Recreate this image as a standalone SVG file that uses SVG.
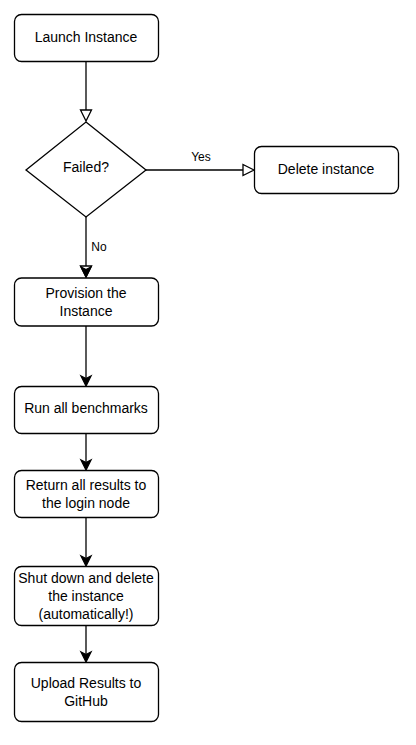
<svg xmlns="http://www.w3.org/2000/svg" width="416" height="745" viewBox="0 0 416 745">
<style>
.n{fill:#fff;stroke:#000;stroke-width:1.3}
.t{font-family:"Liberation Sans",Arial,sans-serif;font-size:14px;fill:#000;text-anchor:middle}
.l{font-family:"Liberation Sans",Arial,sans-serif;font-size:12px;fill:#000;text-anchor:middle}
.e{fill:none;stroke:#000;stroke-width:1.3}
.open{fill:#fff;stroke:#000;stroke-width:1.3}
.cls{fill:#000;stroke:#000;stroke-width:1.3}
</style>
<rect width="416" height="745" fill="#fff"/>
<g id="edges">
<path class="e" d="M86 62V110"/>
<path class="open" d="M86 121L80.5 110H91.5Z"/>
<path class="e" d="M146 170H243"/>
<path class="open" d="M254 170L243 164.5V175.5Z"/>
<text class="l" x="201" y="161">Yes</text>
<path class="e" d="M86 217V266"/>
<path class="open" d="M86 277L80.5 266H91.5Z"/>
<path class="cls" d="M86 277L81 267L86 269.5L91 267Z"/>
<text class="l" x="99" y="251">No</text>
<path class="e" d="M86 326V378"/>
<path class="cls" d="M86 386L81 376L86 378.5L91 376Z"/>
<path class="e" d="M86 434V462"/>
<path class="cls" d="M86 470L81 460L86 462.5L91 460Z"/>
<path class="e" d="M86 517V558"/>
<path class="cls" d="M86 566L81 556L86 558.5L91 556Z"/>
<path class="e" d="M86 626V654"/>
<path class="cls" d="M86 662L81 652L86 654.5L91 652Z"/>
</g>
<g id="launch"><rect class="n" x="14.5" y="14.5" width="144" height="47" rx="7"/><text class="t" x="86" y="42">Launch Instance</text></g>
<g id="failed"><path class="n" d="M86 122L146 170L86 217L26 170Z"/><text class="t" x="86" y="172">Failed?</text></g>
<g id="delete"><rect class="n" x="254.5" y="146.5" width="144" height="47" rx="7"/><text class="t" x="326" y="174">Delete instance</text></g>
<g id="provision"><rect class="n" x="14.5" y="278" width="144" height="48" rx="7"/><text class="t" x="86" y="298">Provision the</text><text class="t" x="86" y="316">Instance</text></g>
<g id="run"><rect class="n" x="14.5" y="386.5" width="144" height="47" rx="7"/><text class="t" x="86" y="413">Run all benchmarks</text></g>
<g id="return"><rect class="n" x="14.5" y="470.5" width="144" height="47" rx="7"/><text class="t" x="86" y="490">Return all results to</text><text class="t" x="86" y="508">the login node</text></g>
<g id="shutdown"><rect class="n" x="14.5" y="566.5" width="144" height="59" rx="7"/><text class="t" x="86" y="583">Shut down and delete</text><text class="t" x="86" y="601">the instance</text><text class="t" x="86" y="619">(automatically!)</text></g>
<g id="upload"><rect class="n" x="14.5" y="662.5" width="144" height="59" rx="7"/><text class="t" x="86" y="688">Upload Results to</text><text class="t" x="86" y="706">GitHub</text></g>
</svg>
